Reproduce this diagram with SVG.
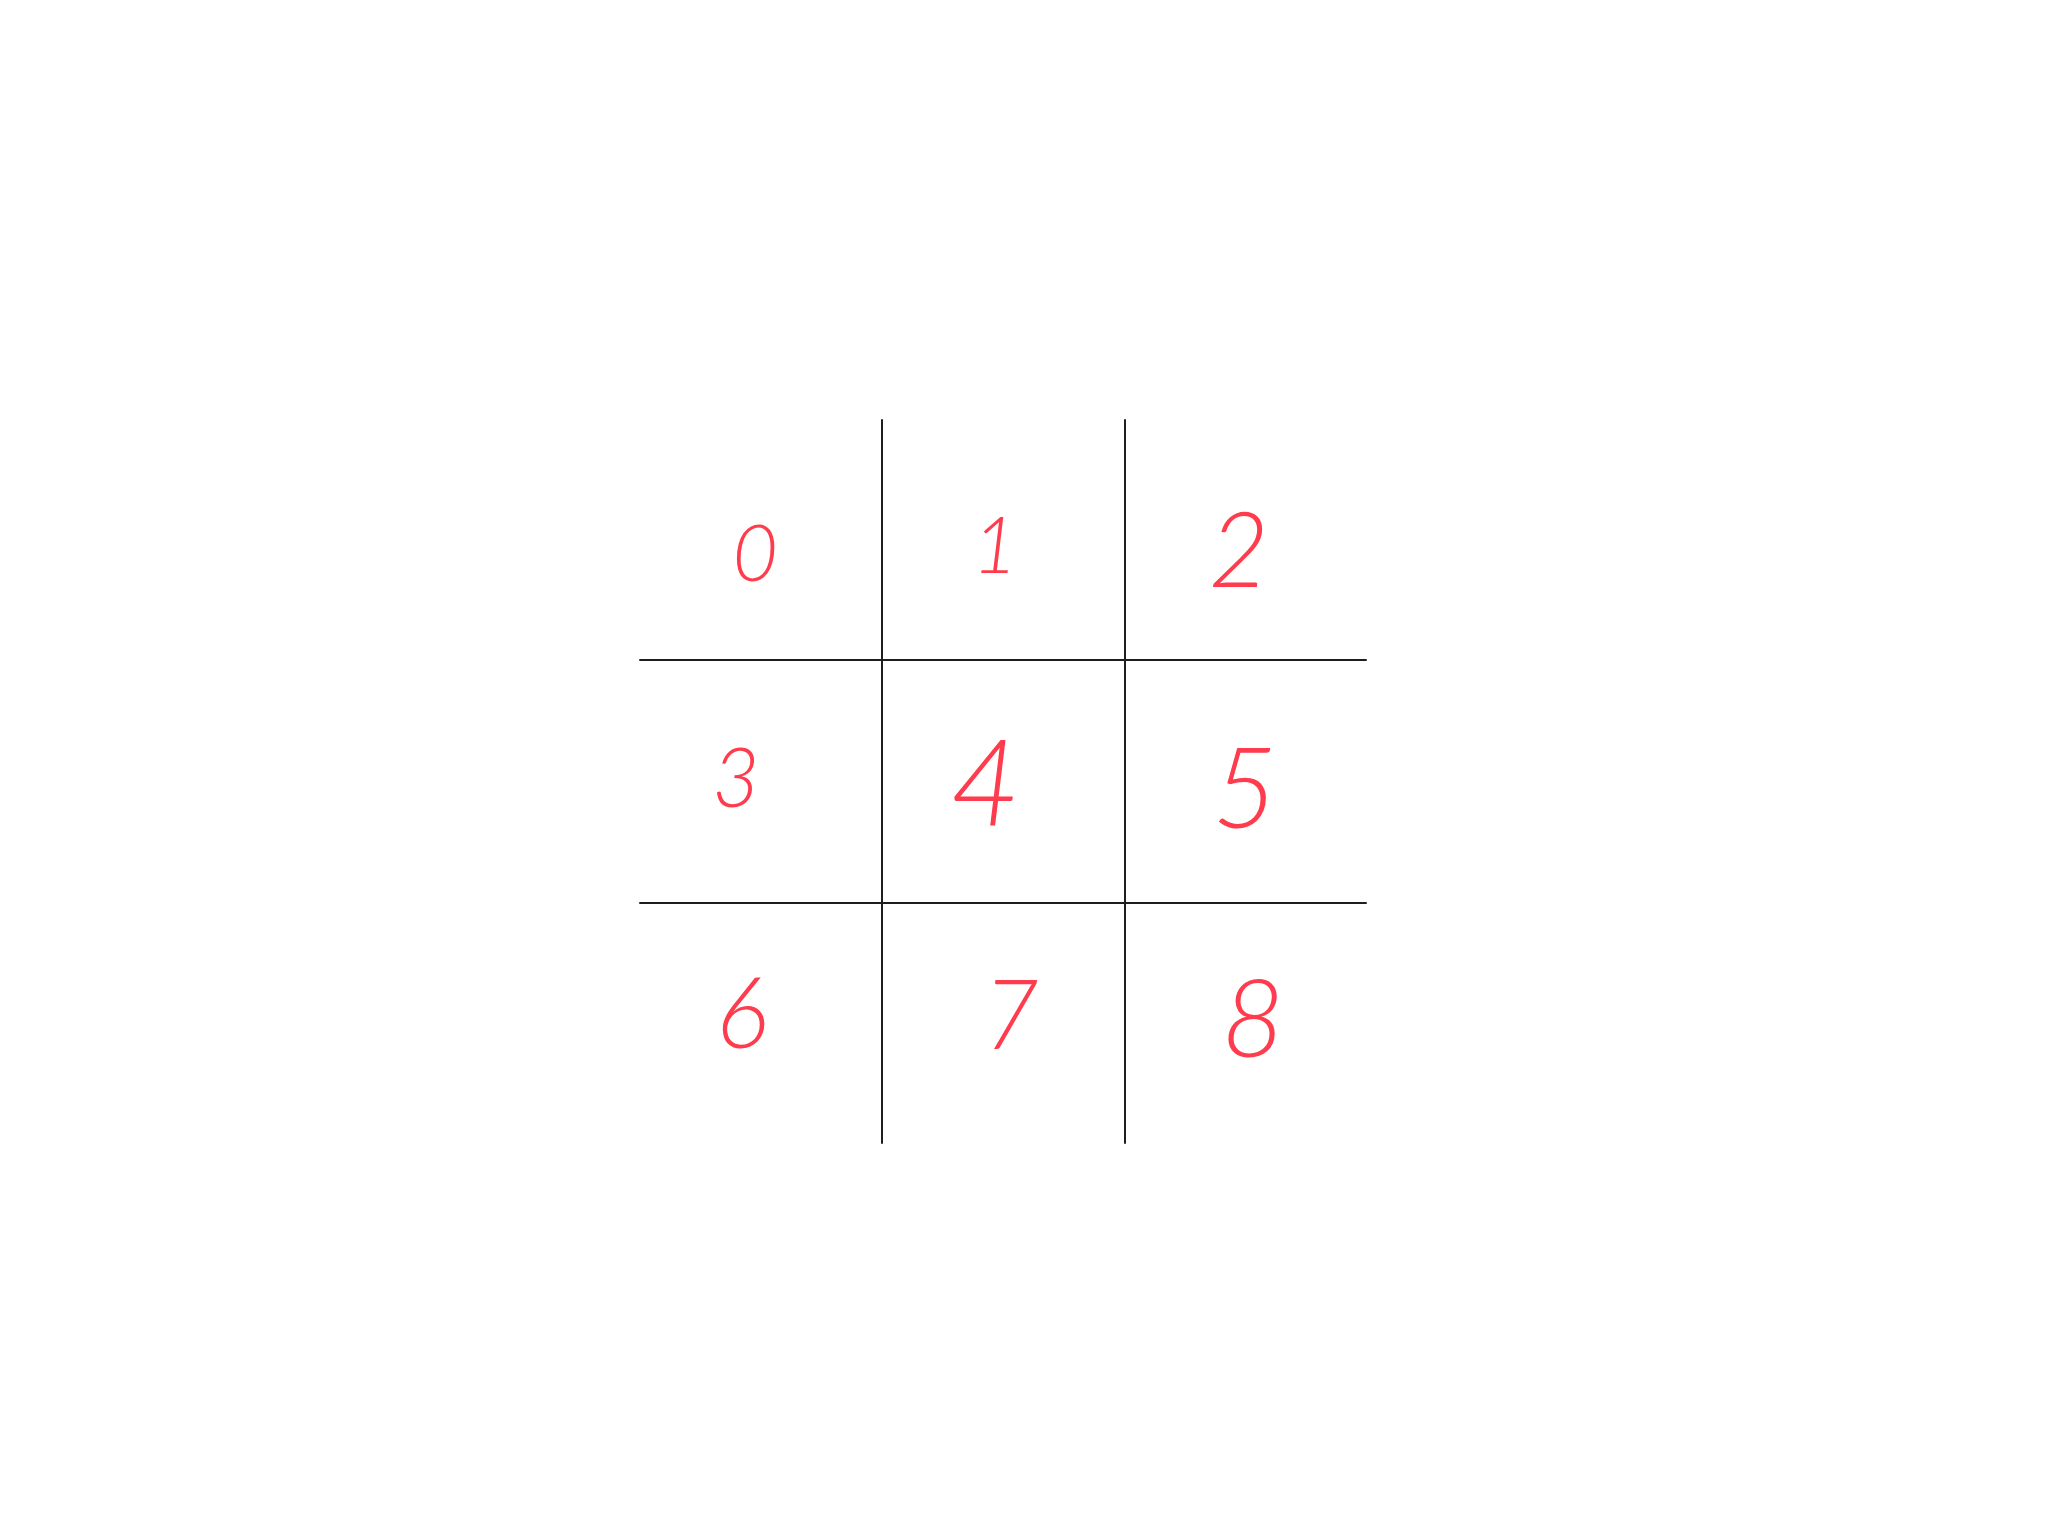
<svg xmlns="http://www.w3.org/2000/svg" width="2048" height="1536" viewBox="0 0 2048 1536">
<style>
.grid{stroke:#1e1e1e;stroke-width:2;fill:none;stroke-linecap:round}
.d{fill:#ff3b4e;font-family:Lato,"Open Sans","Liberation Sans",sans-serif;font-weight:300;font-style:italic;text-anchor:middle;dominant-baseline:central}
</style>
<rect width="2048" height="1536" fill="#ffffff"/>
<g id="grid" class="grid">
<line x1="882" y1="420" x2="882" y2="1143"/>
<line x1="1125" y1="420" x2="1125" y2="1143"/>
<line x1="640" y1="660" x2="1366" y2="660"/>
<line x1="640" y1="903" x2="1366" y2="903"/>
</g>
<g id="cell0"><text class="d" x="755" y="551" font-size="78">0</text></g>
<g id="cell1"><text class="d" x="995" y="543" font-size="78">1</text></g>
<g id="cell2"><text class="d" x="1239" y="546" font-size="104">2</text></g>
<g id="cell3"><text class="d" x="736" y="775" font-size="82">3</text></g>
<g id="cell4"><text class="d" x="985" y="780" font-size="120">4</text></g>
<g id="cell5"><text class="d" x="1245" y="784" font-size="112">5</text></g>
<g id="cell6"><text class="d" x="742" y="1010" font-size="98">6</text></g>
<g id="cell7"><text class="d" x="1011" y="1011" font-size="96">7</text></g>
<g id="cell8"><text class="d" x="1253" y="1015" font-size="108">8</text></g>
</svg>
